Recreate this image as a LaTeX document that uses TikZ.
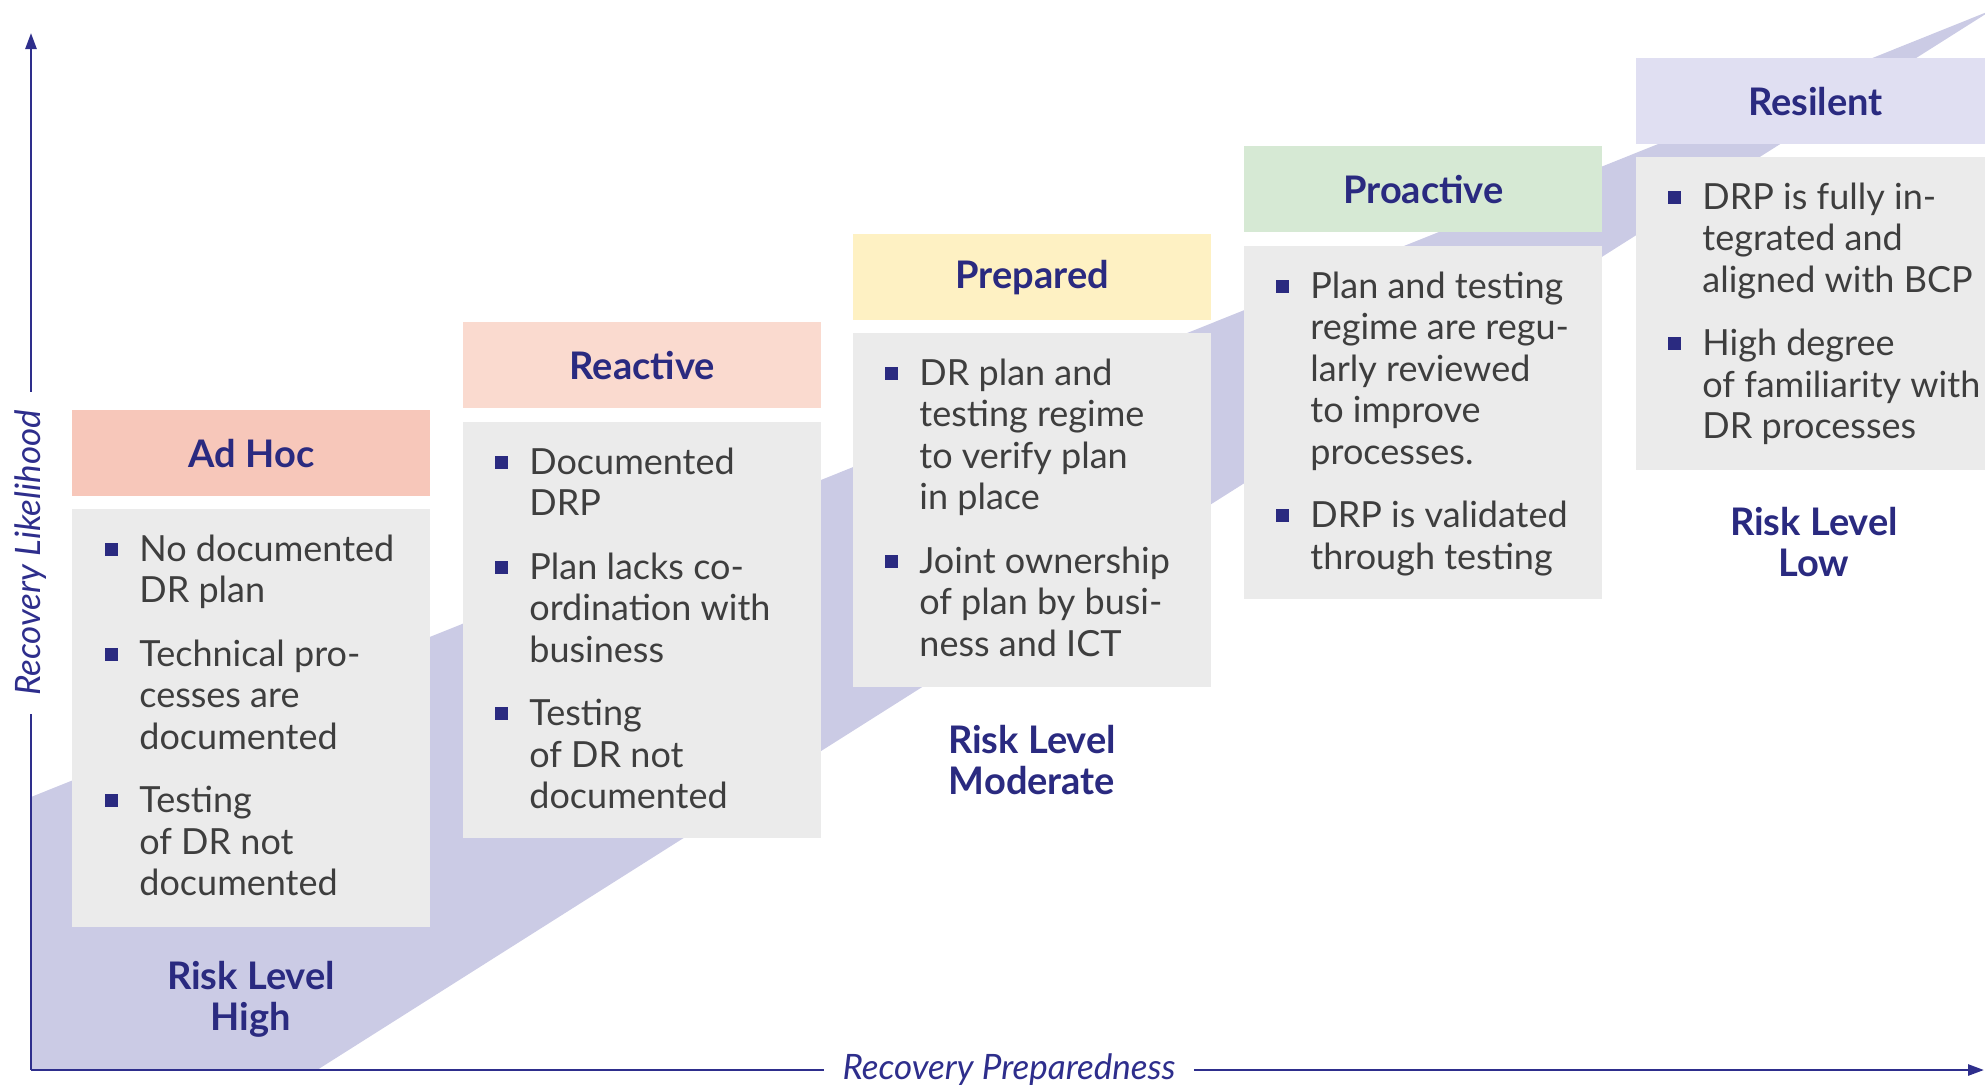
\documentclass[tikz,border=0pt]{standalone}
\usepackage{fontspec}
\setmainfont{Lato}
\usetikzlibrary{arrows.meta}

\definecolor{navy}{RGB}{42,42,128}
\definecolor{axisblue}{RGB}{46,46,140}
\definecolor{bodytxt}{RGB}{62,62,62}
\definecolor{boxgray}{RGB}{235,235,235}
\definecolor{bandlav}{RGB}{203,203,229}
\definecolor{cAdHoc}{RGB}{247,199,186}
\definecolor{cReactive}{RGB}{250,218,207}
\definecolor{cPrepared}{RGB}{254,241,195}
\definecolor{cProactive}{RGB}{214,233,212}
\definecolor{cResilent}{RGB}{224,223,242}

% square bullet and gap between list items
\newcommand\bsq{\textcolor{navy}{\rule[0.3ex]{6.5pt}{6.5pt}}}
\newcommand\igap{\\[11pt]}

\tikzset{
  hdr/.style={fill=#1, anchor=north west, minimum width=179pt, minimum height=43pt,
    inner sep=0pt, text=navy, font=\bfseries\fontsize{19}{22}\selectfont},
  bodybox/.style={fill=boxgray, anchor=north west, minimum width=179pt,
    minimum height=#1, inner sep=0pt},
  bodytext/.style={anchor=base west, inner sep=0pt, text=bodytxt,
    font=\fontsize{18}{20.75}\selectfont},
  risk/.style={align=center, inner sep=0pt, text=navy,
    font=\bfseries\fontsize{19}{20.5}\selectfont},
  axislabel/.style={text=axisblue, inner ysep=0pt, inner xsep=9pt,
    font=\itshape\fontsize{17.5}{19}\selectfont},
  axisline/.style={draw=axisblue, line width=1.3pt},
  axisarrow/.style={axisline, -{Triangle[length=8pt,width=5.5pt]}}
}

\begin{document}
\begin{tikzpicture}[x=0.5pt,y=-0.5pt]
\useasboundingbox (0,0) rectangle (1985,1089);

% rising lavender band
\fill[bandlav] (31,797) -- (1992,10) -- (317,1070) -- (31,1070) -- cycle;

% stage headers
\node[hdr=cAdHoc]    (h1) at (72,410)   {Ad Hoc};
\node[hdr=cReactive] (h2) at (463,322)  {Reactive};
\node[hdr=cPrepared] (h3) at (853,234)  {Prepared};
\node[hdr=cProactive](h4) at (1244,146) {Proactive};
\node[hdr=cResilent] (h5) at (1636,58)  {Resilent};

% stage bodies
\node[bodybox=209pt]   (b1) at (72,509)   {};
\node[bodybox=208pt]   (b2) at (463,422)  {};
\node[bodybox=177pt]   (b3) at (853,333)  {};
\node[bodybox=176.5pt] (b4) at (1244,246) {};
\node[bodybox=156.5pt] (b5) at (1636,157) {};

\node[bodytext] (t1) at ([xshift=16.5pt,yshift=-26pt]b1.north west) {%
\begin{tabular}[t]{@{}l@{\hspace{10.5pt}}l@{}}
\bsq & No documented\\
     & DR plan\igap
\bsq & Technical pro-\\
     & cesses are\\
     & documented\igap
\bsq & Testing\\
     & of DR not\\
     & documented
\end{tabular}};

\node[bodytext] (t2) at ([xshift=16pt,yshift=-26pt]b2.north west) {%
\begin{tabular}[t]{@{}l@{\hspace{10.5pt}}l@{}}
\bsq & Documented\\
     & DRP\igap
\bsq & Plan lacks co-\\
     & ordination with\\
     & business\igap
\bsq & Testing\\
     & of DR not\\
     & documented
\end{tabular}};

\node[bodytext] (t3) at ([xshift=16pt,yshift=-26pt]b3.north west) {%
\begin{tabular}[t]{@{}l@{\hspace{10.5pt}}l@{}}
\bsq & DR plan and\\
     & testing regime\\
     & to verify plan\\
     & in place\igap
\bsq & Joint ownership\\
     & of plan by busi-\\
     & ness and ICT
\end{tabular}};

\node[bodytext] (t4) at ([xshift=16pt,yshift=-26pt]b4.north west) {%
\begin{tabular}[t]{@{}l@{\hspace{10.5pt}}l@{}}
\bsq & Plan and testing\\
     & regime are regu-\\
     & larly reviewed\\
     & to improve\\
     & processes.\igap
\bsq & DRP is validated\\
     & through testing
\end{tabular}};

\node[bodytext] (t5) at ([xshift=16pt,yshift=-26pt]b5.north west) {%
\begin{tabular}[t]{@{}l@{\hspace{10.5pt}}l@{}}
\bsq & DRP is fully in-\\
     & tegrated and\\
     & aligned with BCP\igap
\bsq & High degree\\
     & of familiarity with\\
     & DR processes
\end{tabular}};

% risk levels
\node[risk] (r1) at (251,999)  {Risk Level\\High};
\node[risk] (r3) at (1032,760) {Risk Level\\Moderate};
\node[risk] (r5) at (1814,542) {Risk Level\\Low};

% axes
\coordinate (O) at (31,1070);
\coordinate (ytip) at (31,33);
\coordinate (xtip) at (1984,1070);
\node[axislabel, rotate=90] (ylab) at (31,553) {Recovery Likelihood};
\node[axislabel] (xlab) at (1009,1070) {Recovery Preparedness};
\draw[axisline] (O) -- (ylab.west);
\draw[axisarrow] (ylab.east) -- (ytip);
\draw[axisline] (O) -- (xlab.west);
\draw[axisarrow] (xlab.east) -- (xtip);
\end{tikzpicture}
\end{document}
